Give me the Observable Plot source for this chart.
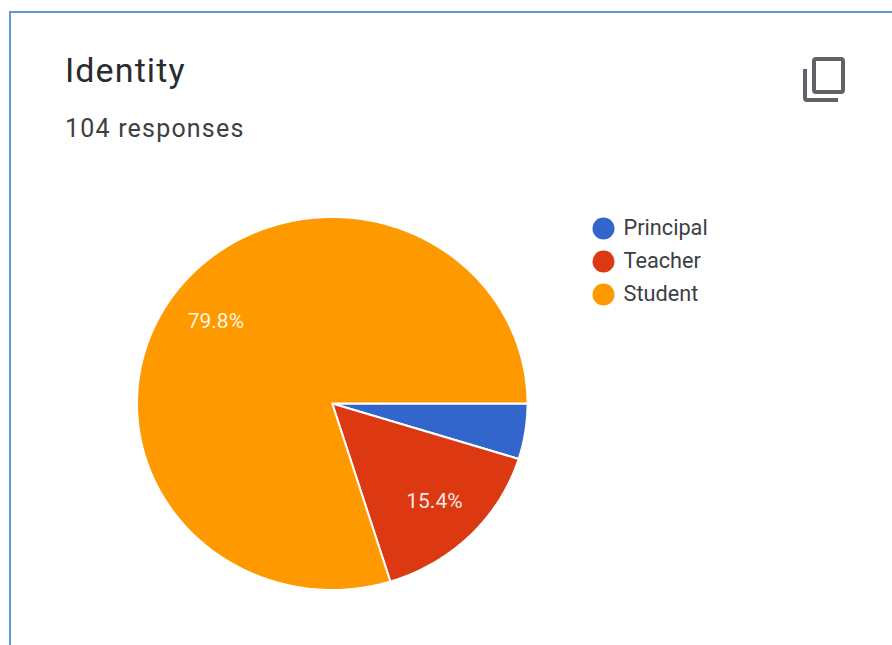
<!DOCTYPE html>
<html>
<head>
<meta charset="utf-8">
<script src="https://cdn.jsdelivr.net/npm/d3@7"></script>
<script src="https://cdn.jsdelivr.net/npm/@observablehq/plot@0.6"></script>
<style>
  html, body { margin: 0; padding: 0; background: #fff; overflow: hidden; }
  #page { position: relative; width: 892px; height: 645px; overflow: hidden; font-family: Roboto, sans-serif; }
  #card { position: absolute; left: 9px; top: 10.5px; width: 900px; height: 700px; border: 2px solid #5b9bd8; box-sizing: border-box; }
  #title { position: absolute; left: 65px; top: 50px; font-size: 34px; line-height: 40px; letter-spacing: 1.1px; color: #2a2b2e; }
  #subtitle { position: absolute; left: 65px; top: 114px; font-size: 25px; line-height: 30px; letter-spacing: 1.2px; color: #3c4043; }
  #copy { position: absolute; left: 800px; top: 54px; }
  #pie, #legend { position: absolute; }
  #pie { left: 0; top: 0; }
  #legend { left: 590px; top: 210.5px; }
</style>
</head>
<body>
<div id="page">
  <div id="card"></div>
  <div id="title">Identity</div>
  <div id="subtitle">104 responses</div>
  <svg id="copy" width="48" height="52" viewBox="0 0 48 52" fill="none" stroke="#5f6368" stroke-width="4">
    <rect x="14" y="5" width="29" height="33" rx="2"></rect>
    <path d="M5 15 V44 a2 2 0 0 0 2 2 H38"></path>
  </svg>
  <div id="pie"></div>
  <div id="legend"></div>
</div>
<script>
// Survey answers, as response counts out of 104
const roles = ["Principal", "Teacher", "Student"];
const counts = [5, 16, 83];
const roleColors = ["#3366cc", "#dc3912", "#ff9900"];

const total = d3.sum(counts);
const color = { type: "ordinal", domain: roles, range: roleColors };

// Slices run clockwise from three o'clock
const arcs = d3.pie().sort(null).startAngle(Math.PI / 2).endAngle(Math.PI * 2.5)(counts);

// Each slice becomes a closed outline in unit-circle coordinates
const outline = arcs.flatMap((arc, i) => {
  const steps = Math.max(2, Math.ceil((arc.endAngle - arc.startAngle) * 90));
  const rim = d3.range(steps + 1).map(k => {
    const a = arc.startAngle + (arc.endAngle - arc.startAngle) * k / steps;
    return { role: roles[i], x: Math.sin(a), y: Math.cos(a) };
  });
  const hub = { role: roles[i], x: 0, y: 0 };
  return [hub, ...rim, hub];
});

// Percentages sit on the slice's middle angle; thin slices stay unlabelled
const labels = arcs
  .map((arc, i) => {
    const mid = (arc.startAngle + arc.endAngle) / 2;
    return { share: counts[i] / total, x: 0.74 * Math.sin(mid), y: 0.74 * Math.cos(mid) };
  })
  .filter(d => d.share >= 0.1);

const pie = Plot.plot({
  width: 892,
  height: 645,
  margin: 0,
  style: { background: "transparent" },
  x: { domain: [-1, 1], range: [136.5, 527], axis: null },
  y: { domain: [-1, 1], range: [589.5, 216.5], axis: null },
  color,
  marks: [
    Plot.line(outline, {
      x: "x", y: "y", z: "role", fill: "role",
      stroke: "white", strokeWidth: 2, strokeLinejoin: "round"
    }),
    Plot.text(labels, {
      x: "x", y: "y",
      text: d => `${(d.share * 100).toFixed(1)}%`,
      fill: "white", fontSize: 21, fontFamily: "Roboto, sans-serif", fillOpacity: 0.9
    })
  ]
});
document.getElementById("pie").append(pie);

const legend = Plot.plot({
  width: 160,
  height: 100,
  margin: 0,
  style: { background: "transparent" },
  x: { axis: null },
  y: { type: "point", domain: roles, range: [17, 83], padding: 0, axis: null },
  color,
  marks: [
    Plot.dot(roles, { y: d => d, frameAnchor: "left", dx: 13, r: 11, fill: d => d }),
    Plot.text(roles, {
      y: d => d, text: d => d, frameAnchor: "left", dx: 33, textAnchor: "start",
      fill: "#3c4043", fontSize: 21.7, fontFamily: "Roboto, sans-serif"
    })
  ]
});
document.getElementById("legend").append(legend);
</script>
</body>
</html>
